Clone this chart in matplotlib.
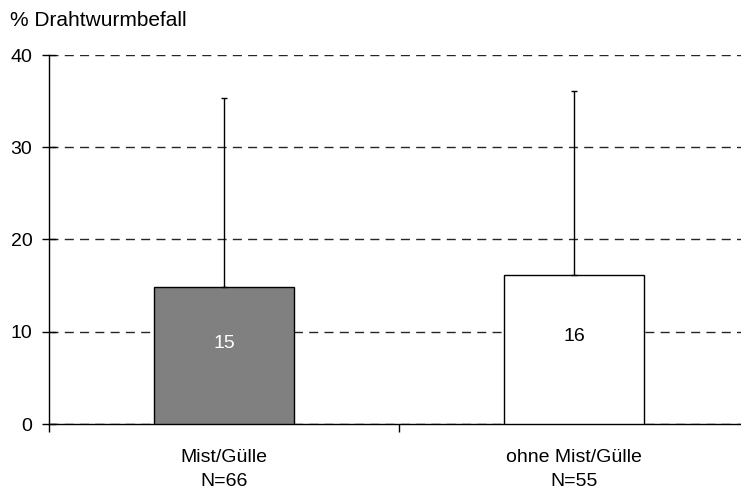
import matplotlib
matplotlib.use("Agg")
import matplotlib.pyplot as plt
import numpy as np

plt.rcParams['font.family'] = ['Liberation Sans', 'DejaVu Sans']

categories = ["Mist/Gülle", "ohne Mist/Gülle"]
sample_sizes = ["N=66", "N=55"]
values = [14.8, 16.1]
upper_err = [20.5, 20.0]
labels = ["15", "16"]
bar_colors = ["#808080", "#ffffff"]
label_colors = ["white", "black"]
yticks = [0, 10, 20, 30, 40]

fig = plt.figure(figsize=(7.41, 4.90), dpi=100)
ax = fig.add_axes([49 / 741, 1 - 424 / 490, 700 / 741, 369 / 490])

x = np.arange(len(categories))
ax.bar(x, values, width=0.4, color=bar_colors, edgecolor="black", linewidth=1.0, zorder=3)
ax.errorbar(x, values, yerr=[np.zeros(len(values)), upper_err], fmt="none",
            ecolor="black", elinewidth=1.0, capsize=2.2, capthick=1.0, zorder=4)

for xi, v, lab, c in zip(x, values, labels, label_colors):
    ax.text(xi, v * 0.59, lab, ha="center", va="center", color=c, fontsize=14, zorder=5)

ax.set_xlim(-0.5, 1.5)
ax.set_ylim(0, 40)
ax.set_yticks(yticks)
ax.set_yticklabels([str(t) for t in yticks], fontsize=14)
ax.yaxis.grid(True, linestyle=(0, (6.5, 4.5)), color="#262626", linewidth=1.0, zorder=0)
ax.set_axisbelow(True)

ax.set_xticks(x)
ax.set_xticklabels([f"{c}\n{n}" for c, n in zip(categories, sample_sizes)], fontsize=14,
                   linespacing=1.55)
ax.tick_params(axis="x", which="major", length=0, pad=18)
ax.set_xticks([-0.5, 0.5, 1.5], minor=True)
ax.tick_params(axis="x", which="minor", length=6, direction="out", width=1.0)
ax.tick_params(axis="y", length=10, direction="inout", width=1.0, pad=7)

for side in ["top", "right"]:
    ax.spines[side].set_visible(False)
ax.spines["left"].set_linewidth(1.0)
ax.spines["bottom"].set_linewidth(1.0)

fig.text(10 / 741, 1 - 20 / 490, "% Drahtwurmbefall", fontsize=15, ha="left", va="center")

fig.savefig("out.png", dpi=100)
